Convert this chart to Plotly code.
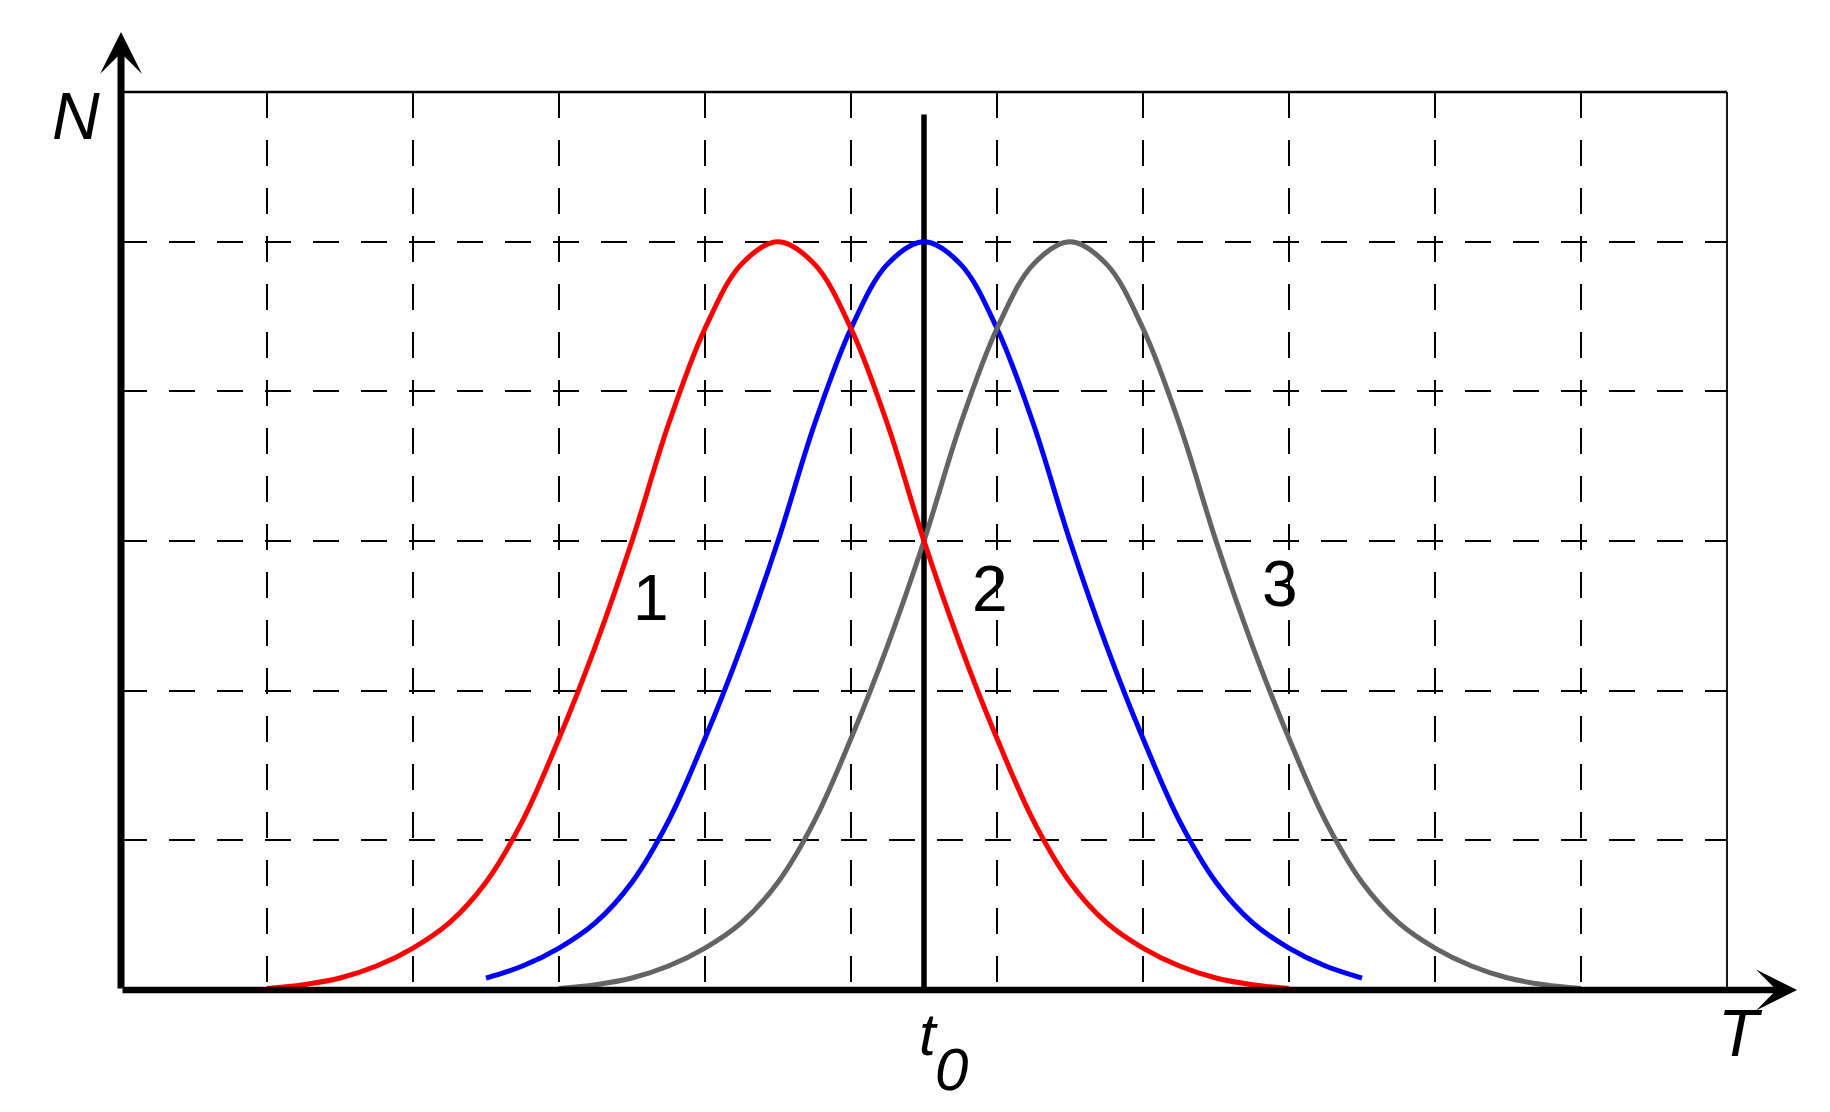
import plotly.graph_objects as go

# curve data (grid units: x along T, y along N)
x1 = [1.0 + 0.25 * i for i in range(29)]
n1 = [0.01, 0.035, 0.08, 0.16, 0.28, 0.45, 0.72, 1.13, 1.68, 2.3, 3.0, 3.78, 4.42, 4.85, 5.0,
      4.85, 4.42, 3.78, 3.0, 2.3, 1.68, 1.13, 0.72, 0.45, 0.28, 0.16, 0.08, 0.035, 0.01]
x2 = [2.5 + 0.25 * i for i in range(25)]
n2 = [0.08, 0.16, 0.28, 0.45, 0.72, 1.13, 1.68, 2.3, 3.0, 3.78, 4.42, 4.85, 5.0,
      4.85, 4.42, 3.78, 3.0, 2.3, 1.68, 1.13, 0.72, 0.45, 0.28, 0.16, 0.08]
x3 = [3.0 + 0.25 * i for i in range(29)]
n3 = [0.01, 0.035, 0.08, 0.16, 0.28, 0.45, 0.72, 1.13, 1.68, 2.3, 3.0, 3.78, 4.42, 4.85, 5.0,
      4.85, 4.42, 3.78, 3.0, 2.3, 1.68, 1.13, 0.72, 0.45, 0.28, 0.16, 0.08, 0.035, 0.01]

t0 = 5.5
t0_top = 5.85
curve_labels = ["1", "2", "3"]
label_x = [3.63, 5.95, 7.94]
label_y = [2.62, 2.68, 2.71]

FONT = "Liberation Sans, Arial, sans-serif"

fig = go.Figure()

# vertical t0 line
fig.add_trace(go.Scatter(x=[t0, t0], y=[0, t0_top], mode="lines",
                         line=dict(color="black", width=5.5), hoverinfo="skip"))
fig.add_trace(go.Scatter(x=x2, y=n2, mode="lines", line=dict(color="#0000ff", width=5, shape="spline")))
fig.add_trace(go.Scatter(x=x3, y=n3, mode="lines", line=dict(color="#646464", width=5, shape="spline")))
fig.add_trace(go.Scatter(x=x1, y=n1, mode="lines", line=dict(color="#ff0000", width=5, shape="spline")))

# top and right border (paper refs so they are not clipped)
fig.add_shape(type="line", xref="paper", yref="paper", x0=0, x1=1, y0=1, y1=1,
              line=dict(color="black", width=2.5))
fig.add_shape(type="line", xref="paper", yref="paper", x0=1, x1=1, y0=0, y1=1,
              line=dict(color="black", width=1.8))

ann = []
# axes with arrows
ann.append(dict(x=0, y=1.0668, xref="paper", yref="paper", ax=0, ay=958, axref="pixel", ayref="pixel",
                showarrow=True, arrowhead=3, arrowsize=1.0, arrowwidth=7, arrowcolor="black", text=""))
ann.append(dict(x=1.0436, y=0, xref="paper", yref="paper", ax=-1676, ay=0, axref="pixel", ayref="pixel",
                showarrow=True, arrowhead=3, arrowsize=1.05, arrowwidth=6.5, arrowcolor="black", text=""))

# axis letters
def label(x, y, txt, size, ref="paper"):
    return dict(x=x, y=y, xref=ref if ref == "paper" else "x", yref=ref if ref == "paper" else "y",
                text=txt, showarrow=False, xanchor="center", yanchor="middle",
                font=dict(family=FONT, size=size, color="black"))

ann.append(label(-0.028, 0.973, "<i>N</i>", 66))
ann.append(label(1.0087, -0.048, "<i>T</i>", 66))
ann.append(label(0.5025, -0.050, "<i>t</i>", 60))
ann.append(label(0.5174, -0.088, "<i>0</i>", 60))

for lab, lx, ly in zip(curve_labels, label_x, label_y):
    ann.append(label(lx, ly, lab, 64, ref="data"))

fig.update_layout(
    width=1830, height=1112,
    margin=dict(l=113, r=111, t=84, b=130),
    paper_bgcolor="white", plot_bgcolor="white",
    showlegend=False,
    annotations=ann,
    xaxis=dict(range=[0, 11], tick0=0, dtick=1, showgrid=True, gridcolor="black", gridwidth=1.5,
               griddash="26px,22px", showticklabels=False, ticks="", zeroline=False, showline=False),
    yaxis=dict(range=[0, 6], tick0=0, dtick=1, showgrid=True, gridcolor="black", gridwidth=1.5,
               griddash="26px,22px", showticklabels=False, ticks="", zeroline=False, showline=False),
)

fig.write_html("out.html")
